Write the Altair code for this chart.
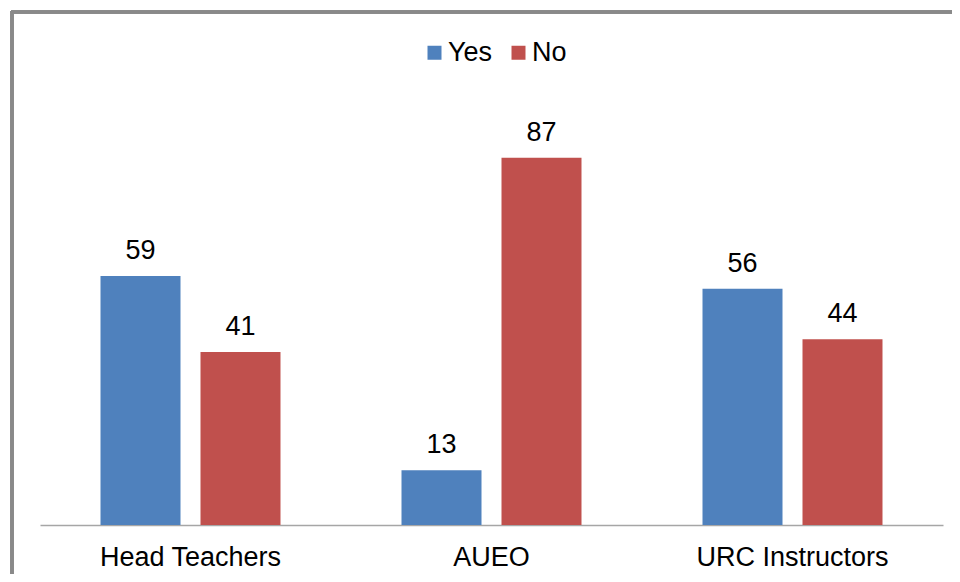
import altair as alt
import pandas as pd

groups = ["Head Teachers", "AUEO", "URC Instructors"]
answers = ["Yes", "No"]
yes_values = [59, 13, 56]
no_values = [41, 87, 44]
colors = ["#4F81BD", "#C0504D"]

rows = []
for g, y, n in zip(groups, yes_values, no_values):
    rows.append({"group": g, "answer": "Yes", "value": y})
    rows.append({"group": g, "answer": "No", "value": n})
df = pd.DataFrame(rows)

FONT = "Liberation Sans"
FS = 27

x_enc = alt.X("group:N", sort=groups, title=None,
              scale=alt.Scale(paddingInner=0.402, paddingOuter=0.201),
              axis=alt.Axis(labelAngle=0, ticks=False, domainColor="#A6A6A6",
                            domainWidth=1.5, labelFont=FONT, labelFontSize=FS,
                            labelColor="#000000", labelPadding=19, labelLimit=400,
                            grid=False))
xo_enc = alt.XOffset("answer:N", sort=answers,
                     scale=alt.Scale(paddingInner=0.2, paddingOuter=0))
y_enc = alt.Y("value:Q", axis=None, scale=alt.Scale(domain=[0, 100]))

bars = alt.Chart(df).mark_bar().encode(
    x=x_enc, xOffset=xo_enc, y=y_enc,
    color=alt.Color("answer:N", sort=answers,
                    scale=alt.Scale(domain=answers, range=colors),
                    legend=alt.Legend(title=None, orient="none", direction="horizontal",
                                      legendX=381, legendY=-64,
                                      symbolType="square", symbolSize=196,
                                      symbolStrokeWidth=0, labelFont=FONT,
                                      labelFontSize=FS, labelColor="#000000",
                                      labelOffset=0, columnPadding=12)),
)

labels = alt.Chart(df).mark_text(baseline="bottom", dy=-11, font=FONT,
                                 fontSize=FS, color="#000000").encode(
    x=x_enc, xOffset=xo_enc, y=y_enc, text="value:Q")

frame_top = alt.Chart(df).mark_rule(color="#898989", strokeWidth=3).encode(
    x=alt.value(-29), x2=alt.value(960), y=alt.value(-91))
frame_left = alt.Chart(df).mark_rule(color="#898989", strokeWidth=3).encode(
    x=alt.value(-28), y=alt.value(-92), y2=alt.value(600))

chart = alt.layer(frame_top, frame_left, bars, labels).properties(
    width=903, height=422,
    autosize=alt.AutoSizeParams(type="none"),
    padding={"left": 32, "top": 95, "right": 9, "bottom": 49},
).configure_view(strokeWidth=0)

chart.save("out.html", embed_options={"renderer": "svg", "actions": False})
